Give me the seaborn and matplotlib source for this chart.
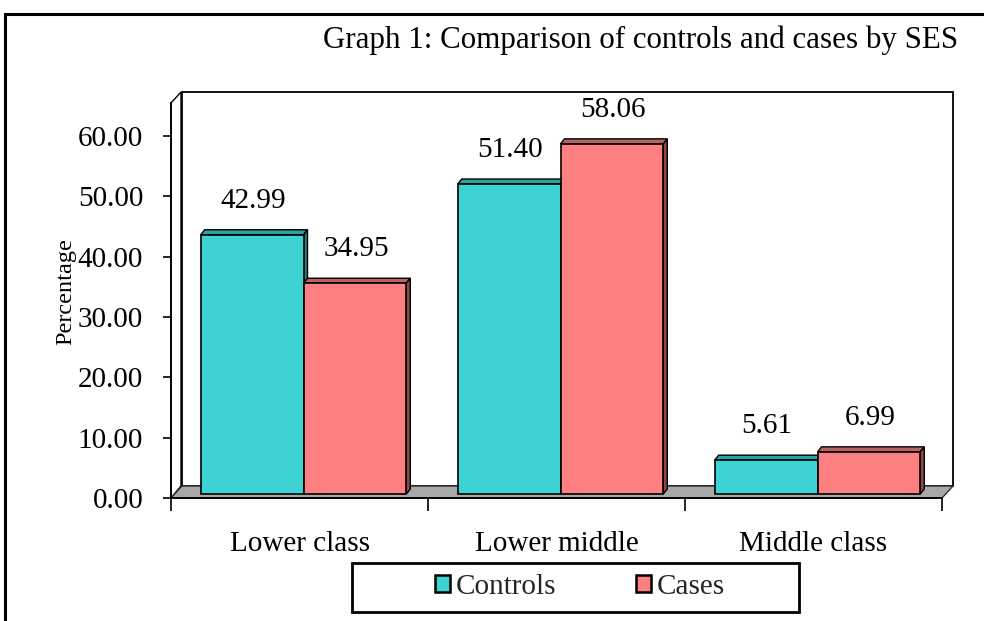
import matplotlib
matplotlib.use('Agg')
import matplotlib.pyplot as plt
import numpy as np
import pandas as pd
import seaborn as sns
from matplotlib.patches import Polygon, Rectangle
from matplotlib.transforms import IdentityTransform, ScaledTranslation

# ---- data ----
categories = ['Lower class', 'Lower middle', 'Middle class']
controls = [42.99, 51.40, 5.61]
cases = [34.95, 58.06, 6.99]
series = ['Controls', 'Cases']
yticks = [0, 10, 20, 30, 40, 50, 60]
title = 'Graph 1: Comparison of controls and cases by SES'
ylabel = 'Percentage'

df = pd.DataFrame({
    'SES': categories * 2,
    'Group': [series[0]] * len(controls) + [series[1]] * len(cases),
    'Pct': controls + cases,
})

sns.set_theme(style='white')
plt.rcParams['font.family'] = ['Liberation Serif', 'DejaVu Serif']

W, H = 984, 621
DPI = 100
fig = plt.figure(figsize=(W / DPI, H / DPI), dpi=DPI)
fig.patch.set_facecolor('white')
ax = fig.add_axes([171 / W, (H - 498) / H, 771 / W, 395 / H])
ax.set_facecolor('none')

face = {'Controls': '#3DD3D3', 'Cases': '#FF8080'}
topc = {'Controls': '#2CA3A3', 'Cases': '#B96262'}
sidec = {'Controls': '#217F7F', 'Cases': '#8E4646'}

sns.barplot(data=df, x='SES', y='Pct', hue='Group', hue_order=series,
            order=categories, palette=face, width=0.8, saturation=1,
            edgecolor='black', linewidth=1.2, ax=ax, legend=False, zorder=3)
ax.set_xlim(-0.5, 2.5)
ax.set_ylim(0, 65.5)
ax.set_xlabel('')
ax.set_ylabel('')

# ticks
ax.set_yticks(yticks)
ax.set_yticklabels([f'{v:.2f}' for v in yticks])
ax.set_xticks(range(len(categories)))
ax.set_xticklabels(categories)
ax.set_xticks(np.arange(-0.5, len(categories), 1.0), minor=True)
ax.tick_params(axis='y', left=True, direction='out', length=6, width=1.2,
               color='black', pad=14, labelsize=21, labelcolor='black')
ax.tick_params(axis='x', which='major', bottom=True, length=0, pad=24,
               labelsize=21, labelcolor='black')
ax.tick_params(axis='x', which='minor', bottom=True, direction='out',
               length=9, width=1.2, color='black')
for s in ['top', 'right']:
    ax.spines[s].set_visible(False)
for s in ['left', 'bottom']:
    ax.spines[s].set_color('black')
    ax.spines[s].set_linewidth(1.3)
    ax.spines[s].set_zorder(6)

fig.canvas.draw()

# ---- pseudo-3D decoration derived from the axes / bars ----
DX, DY = 11, 12      # wall depth in px
bb = ax.get_window_extent()
L, B, R, T = bb.x0, bb.y0, bb.x1, bb.y1
ident = IdentityTransform()

back = Polygon([(L + DX, B + DY), (R + DX, B + DY), (R + DX, T + DX), (L + DX, T + DX)],
               closed=True, facecolor='white', edgecolor='black', lw=1.3,
               transform=ident, zorder=0.5, clip_on=False)
ax.add_artist(back)
leftwall = Polygon([(L, B), (L, T), (L + DX - 1, T + DX), (L + DX - 1, B + DY)],
                   closed=True, facecolor='white', edgecolor='black', lw=1.0,
                   transform=ident, zorder=0.6, clip_on=False)
ax.add_artist(leftwall)
floor = Polygon([(L, B), (R, B), (R + DX, B + DY), (L + DX, B + DY)],
                closed=True, facecolor='#A8A8A8', edgecolor='#303030', lw=1.0,
                transform=ident, zorder=0.7, clip_on=False)
ax.add_artist(floor)

SX, SY = 4, 4        # bar shift into depth
BDX, BDY = 4, 5      # bar depth
shift = ScaledTranslation(SX / DPI, SY / DPI, fig.dpi_scale_trans)
for cont, grp in zip(ax.containers, series):
    for bar, v in zip(cont, cont.datavalues):
        bar.set_transform(ax.transData + shift)
        x0, y0 = ax.transData.transform((bar.get_x(), 0))
        x1, y1 = ax.transData.transform((bar.get_x() + bar.get_width(), bar.get_height()))
        x0 += SX; x1 += SX; y0 += SY; y1 += SY
        top = Polygon([(x0, y1), (x1, y1), (x1 + BDX, y1 + BDY), (x0 + BDX, y1 + BDY)],
                      closed=True, facecolor=topc[grp], edgecolor='black', lw=1.0,
                      transform=ident, zorder=2.5, clip_on=False)
        side = Polygon([(x1, y0), (x1, y1), (x1 + BDX, y1 + BDY), (x1 + BDX, y0 + BDY)],
                       closed=True, facecolor=sidec[grp], edgecolor='black', lw=1.0,
                       transform=ident, zorder=2.5, clip_on=False)
        ax.add_artist(top)
        ax.add_artist(side)
        ax.annotate(f'{v:.2f}', xy=(bar.get_x() + bar.get_width() / 2, v),
                    xytext=(5 * 72 / DPI, 31 * 72 / DPI), textcoords='offset points',
                    ha='center', va='baseline', fontsize=21, color='black', zorder=7)

# ---- texts ----
fig.text(958 / W, 1 - 40 / H, title, ha='right', va='center', fontsize=22.3, color='black')
fig.text(66 / W, 1 - 292 / H, ylabel, rotation=90, ha='center', va='center',
         fontsize=17.5, color='black')

# ---- legend ----
handles = [Rectangle((0, 0), 1, 1, facecolor=face[s], edgecolor='black', lw=1.8) for s in series]
frame = Rectangle((352 / W, 1 - 612 / H), 447 / W, 49 / H, transform=fig.transFigure,
                  facecolor='white', edgecolor='black', lw=2, zorder=4)
fig.add_artist(frame)
leg = fig.legend(handles, series, loc='center', bbox_to_anchor=(580 / W, 1 - 587 / H),
                 ncol=2, frameon=False, handlelength=0.5, handleheight=0.5,
                 handletextpad=0.2, columnspacing=2.75, fontsize=21, borderpad=0)
leg.set_zorder(5)

# ---- outer border ----
border = Rectangle((5 / W, -0.05), 1.2, 1.05 - 14 / H, transform=fig.transFigure,
                   facecolor='none', edgecolor='black', lw=2.2, zorder=10)
fig.add_artist(border)

fig.savefig('out.png', dpi=DPI, facecolor='white')
